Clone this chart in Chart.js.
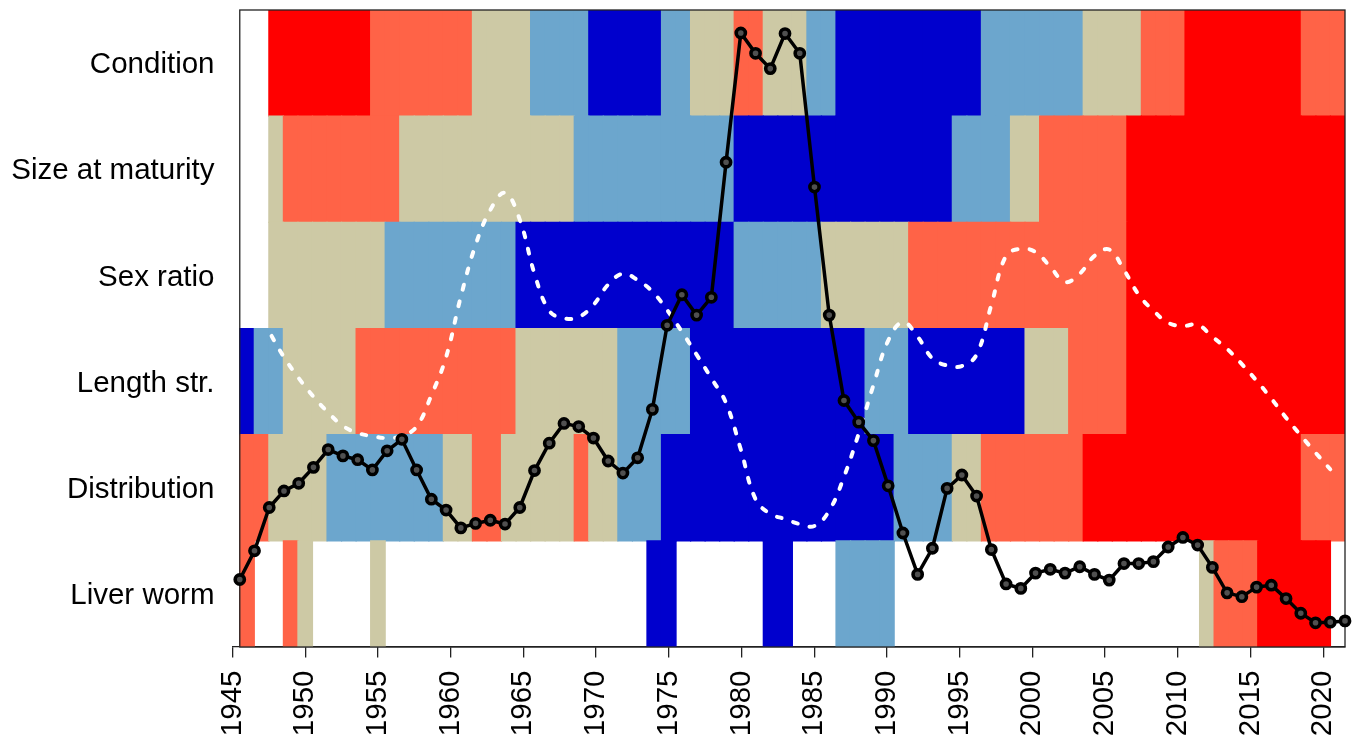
<!DOCTYPE html>
<html>
<head>
<meta charset="utf-8">
<script src="https://cdn.jsdelivr.net/npm/chart.js@4/dist/chart.umd.min.js"></script>
<style>
  html, body { margin: 0; padding: 0; background: #ffffff; }
  #wrap { width: 1358px; height: 738px; position: relative; }
</style>
</head>
<body>
<div id="wrap"><canvas id="chart"></canvas></div>
<script>
// Survey years (one heat cell per year)
const years = [1946,1947,1948,1949,1950,1951,1952,1953,1954,1955,1956,1957,1958,1959,1960,
  1961,1962,1963,1964,1965,1966,1967,1968,1969,1970,1971,1972,1973,1974,1975,1976,1977,1978,
  1979,1980,1981,1982,1983,1984,1985,1986,1987,1988,1989,1990,1991,1992,1993,1994,1995,1996,
  1997,1998,1999,2000,2001,2002,2003,2004,2005,2006,2007,2008,2009,2010,2011,2012,2013,2014,
  2015,2016,2017,2018,2019,2020,2021];

// Years of the smoothed (dashed) series
const smoothYears = years.slice(0, 75);

// Axis ticks
const tickYears = [1945,1950,1955,1960,1965,1970,1975,1980,1985,1990,1995,2000,2005,2010,2015,2020];

// Rows, bottom to top
const rowLabels = ['Liver worm', 'Distribution', 'Length str.', 'Sex ratio', 'Size at maturity', 'Condition'];

// Anomaly classes per year: -2 strongly low ... 2 strongly high, null = no data
const condition = [null,null,2,2,2,2,2,2,2,1,1,1,1,1,1,1,0,0,0,0,-1,-1,-1,-1,-2,-2,-2,-2,-2,-1,-1,
  0,0,0,1,1,0,0,0,-1,-1,-2,-2,-2,-2,-2,-2,-2,-2,-2,-2,-1,-1,-1,-1,-1,-1,-1,0,0,0,0,1,1,1,
  2,2,2,2,2,2,2,2,1,1,1];
const sizeAtMaturity = [null,null,0,1,1,1,1,1,1,1,1,0,0,0,0,0,0,0,0,0,0,0,0,
  -1,-1,-1,-1,-1,-1,-1,-1,-1,-1,-1,-2,-2,-2,-2,-2,-2,-2,-2,-2,-2,-2,-2,-2,-2,-2,
  -1,-1,-1,-1,0,0,1,1,1,1,1,1,2,2,2,2,2,2,2,2,2,2,2,2,2,2,2];
const sexRatio = [null,null,0,0,0,0,0,0,0,0,-1,-1,-1,-1,-1,-1,-1,-1,-1,
  -2,-2,-2,-2,-2,-2,-2,-2,-2,-2,-2,-2,-2,-2,-2,-1,-1,-1,-1,-1,-1,0,0,0,0,0,0,
  1,1,1,1,1,1,1,1,1,1,1,1,1,1,1,2,2,2,2,2,2,2,2,2,2,2,2,2,2,2];
const lengthStr = [-2,-1,-1,0,0,0,0,0,1,1,1,1,1,1,1,1,1,1,1,0,0,0,0,0,0,0,
  -1,-1,-1,-1,-1,-2,-2,-2,-2,-2,-2,-2,-2,-2,-2,-2,-2,-1,-1,-1,-2,-2,-2,-2,-2,-2,-2,-2,
  0,0,0,1,1,1,1,2,2,2,2,2,2,2,2,2,2,2,2,2,2,2];
const distribution = [1,1,0,0,0,0,-1,-1,-1,-1,-1,-1,-1,-1,0,0,1,1,0,0,0,0,0,1,0,0,
  -1,-1,-1,-2,-2,-2,-2,-2,-2,-2,-2,-2,-2,-2,-2,-2,-2,-2,-2,-1,-1,-1,-1,0,0,
  1,1,1,1,1,1,1,2,2,2,2,2,2,2,2,2,2,2,2,2,2,2,1,1,1];
const liverWorm = [1,null,null,1,0,null,null,null,null,0,
  null,null,null,null,null,null,null,null,null,null,null,null,null,null,null,null,null,null,
  -2,-2,null,null,null,null,null,null,-2,-2,null,null,null,-1,-1,-1,-1,
  null,null,null,null,null,null,null,null,null,null,null,null,null,null,null,null,null,null,null,null,null,
  0,1,1,1,2,2,2,2,2,null];

// Yearly index (black line), scaled 0-100
const stockIndex = [10.6,15.1,21.9,24.5,25.7,28.2,31.0,30.0,29.4,27.8,
  30.8,32.6,27.8,23.2,21.5,18.7,19.4,19.9,19.3,21.9,
  27.7,32.0,35.1,34.6,32.8,29.2,27.3,29.7,37.3,50.5,
  55.3,52.1,54.9,76.1,96.4,93.2,90.8,96.3,93.2,72.2,
  52.1,38.7,35.3,32.4,25.3,17.9,11.4,15.5,24.9,27.0,
  23.7,15.3,9.9,9.2,11.6,12.2,11.6,12.6,11.4,10.5,
  13.1,13.1,13.4,15.7,17.2,16.0,12.5,8.5,7.9,9.4,
  9.7,7.6,5.3,3.8,3.9,4.1];

// Smoothed environmental trend (white dashed line), scaled 0-100
const smoothTrend = [58.3,53.9,49.5,45.5,42.2,39.3,36.8,34.7,33.6,33.1,
  32.8,33.1,34.6,39.5,45.5,55.0,63.1,68.6,71.3,67.1,
  58.6,52.8,51.6,51.8,53.7,56.9,58.6,57.6,55.8,52.9,
  49.5,45.9,42.2,38.3,31.0,23.2,20.9,20.1,19.3,19.0,
  21.4,26.7,33.5,41.1,48.1,51.0,48.7,45.3,44.2,44.1,
  45.9,53.7,61.4,62.5,62.0,59.7,57.3,58.6,61.4,62.4,
  59.2,55.3,52.8,50.9,50.4,50.6,48.7,46.8,44.4,41.8,
  39.0,36.0,33.2,30.5,27.9];

const classColors = { '-2': '#0000CD', '-1': '#6CA6CD', '0': '#CDC9A5', '1': '#FF6347', '2': '#FF0000' };
const rows = [liverWorm, distribution, lengthStr, sexRatio, sizeAtMaturity, condition];

const FONT = '"Liberation Sans", Arial, Helvetica, sans-serif';

// One floating-bar dataset per row of the heat strip
const heatSets = rows.map((vals, r) => {
  const data = [], colors = [];
  vals.forEach((v, k) => {
    if (v === null) return;
    data.push({ x: years[k], y: [r, r + 1] });
    colors.push(classColors[String(v)]);
  });
  return {
    type: 'bar', label: rowLabels[r], data, backgroundColor: colors,
    borderWidth: 0, inflateAmount: 0.6, barPercentage: 1, categoryPercentage: 1, grouped: false,
    xAxisID: 'x', yAxisID: 'y', order: 2
  };
});

const trendSet = {
  type: 'line', label: 'trend',
  data: smoothYears.map((yr, i) => ({ x: yr, y: smoothTrend[i] })),
  borderColor: '#ffffff', borderWidth: 4, borderDash: [5, 12], borderCapStyle: 'round',
  pointRadius: 0, tension: 0.4, fill: false,
  xAxisID: 'x2', yAxisID: 'y2', order: 1
};

const indexSet = {
  type: 'line', label: 'index',
  data: years.map((yr, i) => ({ x: yr, y: stockIndex[i] })),
  borderColor: '#000000', borderWidth: 3.5, tension: 0,
  pointRadius: 4.6, pointBorderWidth: 3.6, pointBackgroundColor: '#505050', pointBorderColor: '#000000',
  fill: false, clip: false,
  xAxisID: 'x2', yAxisID: 'y2', order: 0
};

const TREND_INDEX = rows.length;

// Frame around the heat strip, drawn under the black index line
const panelBox = {
  id: 'panelBox',
  afterDatasetDraw(chart, args) {
    if (args.index !== TREND_INDEX) return;
    const xs = chart.scales.x, ys = chart.scales.y, ctx = chart.ctx;
    const left = xs.getPixelForValue(years[0] - 0.5);
    const right = xs.getPixelForValue(years[years.length - 1] + 0.5);
    const top = ys.getPixelForValue(rows.length);
    const bottom = ys.getPixelForValue(0);
    ctx.save();
    ctx.strokeStyle = '#222222';
    ctx.lineWidth = 1.3;
    ctx.strokeRect(left, top, right - left, bottom - top);
    ctx.restore();
  }
};

// The black line spans the frame edge to edge: first year at the left edge, last at the right
const firstYr = years[0], lastYr = years[years.length - 1];
const span = lastYr - firstYr;
const cellSpan = years.length;
const xMin = 1945, xMax = lastYr + 0.5;
const x2Min = firstYr - ((firstYr - 0.5) - xMin) * span / cellSpan;
const x2Max = lastYr + (xMax - (lastYr + 0.5)) * span / cellSpan;

new Chart(document.getElementById('chart'), {
  type: 'bar',
  data: { datasets: [...heatSets, trendSet, indexSet] },
  plugins: [panelBox],
  options: {
    responsive: true, maintainAspectRatio: false, animation: false,
    layout: { padding: { top: 10, right: 13, left: 0, bottom: 0 } },
    plugins: { legend: { display: false }, tooltip: { enabled: false } },
    scales: {
      x: {
        type: 'linear', min: xMin, max: xMax, position: 'bottom', offset: false,
        afterBuildTicks: (s) => { s.ticks = tickYears.map(v => ({ value: v })); },
        afterFit: (s) => { s.height = 91; s.paddingLeft = 0; s.paddingRight = 0; },
        grid: { display: true, offset: false, drawOnChartArea: false, drawTicks: true, tickLength: 10.5, color: '#222222', lineWidth: 1.3 },
        border: { display: true, color: '#222222', width: 1.3 },
        ticks: {
          autoSkip: false, minRotation: 90, maxRotation: 90, padding: 13,
          color: '#000000', font: { family: FONT, size: 29.5 },
          callback: (v) => String(v)
        }
      },
      x2: { type: 'linear', min: x2Min, max: x2Max, display: false, offset: false },
      y: {
        type: 'linear', min: 0, max: rows.length, position: 'left',
        afterBuildTicks: (s) => { s.ticks = rowLabels.map((_, i) => ({ value: i + 0.5 })); },
        afterFit: (s) => { s.width = 232.5; s.paddingTop = 0; s.paddingBottom = 0; },
        grid: { display: false, drawTicks: false },
        border: { display: false },
        ticks: {
          padding: 18, labelOffset: 2, color: '#000000', font: { family: FONT, size: 29.5 },
          callback: (v, i) => rowLabels[i]
        }
      },
      y2: { type: 'linear', min: 0, max: 100, display: false }
    }
  }
});
</script>
</body>
</html>
